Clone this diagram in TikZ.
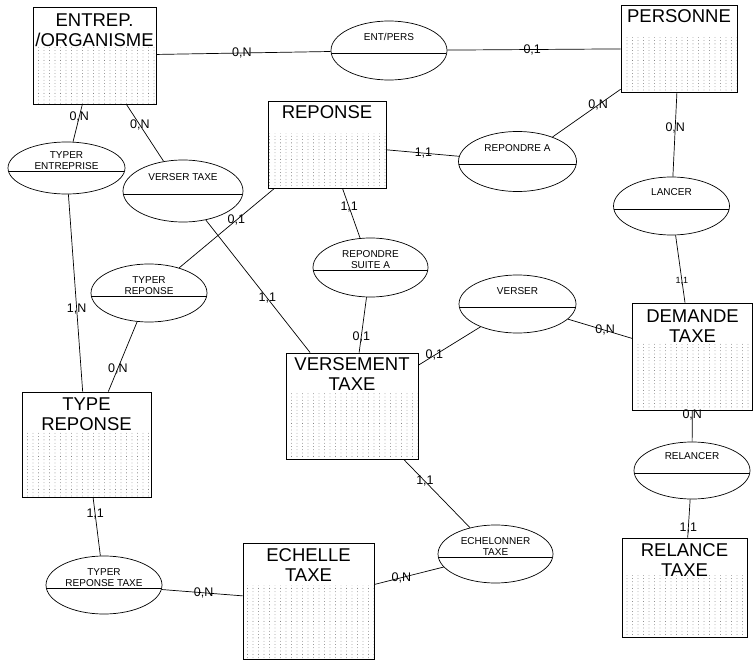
\documentclass[tikz,border=0pt]{standalone}
\usepackage{fontspec}
\setmainfont{Liberation Sans}
\usetikzlibrary{shapes.geometric,patterns.meta}

\tikzdeclarepattern{
  name=ermdots,
  type=uncolored,
  bounding box={(-1pt,-1pt) and (1pt,1pt)},
  tile size={(5.5pt,3.3pt)},
  code={\fill (0pt,0pt) circle (0.4pt);}
}

\begin{document}
\begin{tikzpicture}[
    x=1pt,y=-1pt,
    line width=0.7pt,
    entity/.style n args={3}{draw,line width=0.9pt,inner sep=0pt,minimum width=#1,minimum height=#2,
      path picture={\fill[pattern=ermdots,pattern color=black!60] (path picture bounding box.south west) rectangle ([yshift=-#3]path picture bounding box.north east);}},
    etitle/.style={anchor=north,align=center,inner sep=0pt,font=\fontsize{18.5}{20}\selectfont},
    relation/.style={ellipse,draw,inner sep=0pt,minimum width=116pt,minimum height=58pt,
      path picture={\draw ([yshift=-3pt]path picture bounding box.west) -- ([yshift=-3pt]path picture bounding box.east);}},
    rtext/.style={align=center,inner sep=0pt,font=\fontsize{10}{11}\selectfont},
    card/.style={inner sep=0pt,font=\fontsize{12.5}{14}\selectfont}
]
\useasboundingbox (0,0) rectangle (753,661);

\node[entity={123pt}{97pt}{38pt}] (entrep) at (94.5,55.5) {};
\node[entity={116pt}{87pt}{33pt}] (pers) at (679,48.5) {};
\node[entity={118pt}{87pt}{32pt}] (rep) at (327,144.5) {};
\node[entity={120pt}{107pt}{40pt}] (dem) at (692.5,356.5) {};
\node[entity={132pt}{106pt}{40pt}] (vers) at (352,406) {};
\node[entity={129pt}{105pt}{40pt}] (typrep) at (86.5,444.5) {};
\node[entity={131pt}{116pt}{42pt}] (ech) at (308.5,601) {};
\node[entity={125pt}{99pt}{37pt}] (rel) at (684.5,587.5) {};

\node[etitle] (entrepT) at ([yshift=-7pt]entrep.north) {ENTREP.\\/ORGANISME};
\node[etitle] (persT) at ([yshift=-5pt]pers.north) {PERSONNE};
\node[etitle] (repT) at ([yshift=-5pt]rep.north) {REPONSE};
\node[etitle] (demT) at ([yshift=-7pt]dem.north) {DEMANDE\\TAXE};
\node[etitle] (versT) at ([yshift=-5pt]vers.north) {VERSEMENT\\TAXE};
\node[etitle] (typrepT) at ([yshift=-6pt]typrep.north) {TYPE\\REPONSE};
\node[etitle] (echT2) at ([yshift=-6pt]ech.north) {ECHELLE\\TAXE};
\node[etitle] (relT) at ([yshift=-6pt]rel.north) {RELANCE\\TAXE};

\node[relation,minimum height=59pt] (entpers) at (389,50.5) {};
\node[relation,minimum width=118pt,minimum height=60pt] (repA) at (517.5,161.5) {};
\node[relation] (lancer) at (671.5,206) {};
\node[relation,minimum width=117pt,minimum height=52pt] (typent) at (66.5,168) {};
\node[relation,minimum width=120pt,minimum height=62pt] (versTx) at (183,191) {};
\node[relation] (typrepR) at (149,293) {};
\node[relation,minimum width=115pt,minimum height=59pt] (repSuite) at (370.5,267.5) {};
\node[relation,minimum width=117pt] (versR) at (517.5,304) {};
\node[relation,minimum height=57pt] (relancer) at (692,470.5) {};
\node[relation,minimum width=115pt] (echT) at (495.5,554) {};
\node[relation] (typRT) at (104,585) {};

\node[rtext] (entpersL) at ([yshift=13.5pt]entpers.center) {ENT/PERS};
\node[rtext] (repAL) at ([yshift=13.5pt]repA.center) {REPONDRE A};
\node[rtext] (lancerL) at ([yshift=14pt]lancer.center) {LANCER};
\node[rtext] (typentL) at ([yshift=7.5pt]typent.center) {TYPER\\ENTREPRISE};
\node[rtext] (versTxL) at ([yshift=14pt]versTx.center) {VERSER TAXE};
\node[rtext] (typrepRL) at ([yshift=7.5pt]typrepR.center) {TYPER\\REPONSE};
\node[rtext] (repSuiteL) at ([yshift=8pt]repSuite.center) {REPONDRE\\SUITE A};
\node[rtext] (versRL) at ([yshift=12.5pt]versR.center) {VERSER};
\node[rtext] (relancerL) at ([yshift=14pt]relancer.center) {RELANCER};
\node[rtext] (echTL) at ([yshift=7pt]echT.center) {ECHELONNER\\TAXE};
\node[rtext] (typRTL) at ([yshift=7.5pt]typRT.center) {TYPER\\REPONSE TAXE};

\draw (entrep) -- node[card,pos=0.49] (c1) {0,N} (entpers);
\draw (entpers) -- node[card,pos=0.49] (c2) {0,1} (pers);
\draw (entrep) -- node[card,pos=0.33] (c3) {0,N} (typent);
\draw (entrep) -- node[card,pos=0.36] (c4) {0,N} (versTx);
\draw (typent) -- node[card,pos=0.58] (c5) {1,N} (typrep);
\draw (typrepR) -- node[card,pos=0.67] (c6) {0,N} (typrep);
\draw (typrepR) -- node[card,pos=0.6] (c7) {0,1} (rep);
\draw (versTx) -- node[card,pos=0.59] (c8) {1,1} (vers);
\draw (rep) -- node[card,pos=0.38] (c9) {1,1} (repSuite);
\draw (repSuite) -- node[card,pos=0.71] (c10) {0,1} (vers);
\draw (rep) -- node[card,pos=0.51] (c11) {1,1} (repA);
\draw (repA) -- node[card,pos=0.67] (c12) {0,N} (pers);
\draw (pers) -- node[card,pos=0.42] (c13) {0,N} (lancer);
\draw (lancer) -- node[card,pos=0.68,font=\fontsize{9}{10}\selectfont] (c14) {1,1} (dem);
\draw (versR) -- node[card,pos=0.58] (c15) {0,N} (dem);
\draw (versR) -- node[card,pos=0.745] (c16) {0,1} (vers);
\draw (dem) -- node[card,pos=0.13] (c17) {0,N} (relancer);
\draw (relancer) -- node[card,pos=0.74] (c18) {1,1} (rel);
\draw (vers) -- node[card,pos=0.32] (c19) {1,1} (echT);
\draw (echT) -- node[card,pos=0.61] (c20) {0,N} (ech);
\draw (typrep) -- node[card,pos=0.29] (c21) {1,1} (typRT);
\draw (typRT) -- node[card,pos=0.52] (c22) {0,N} (ech);
\end{tikzpicture}
\end{document}
